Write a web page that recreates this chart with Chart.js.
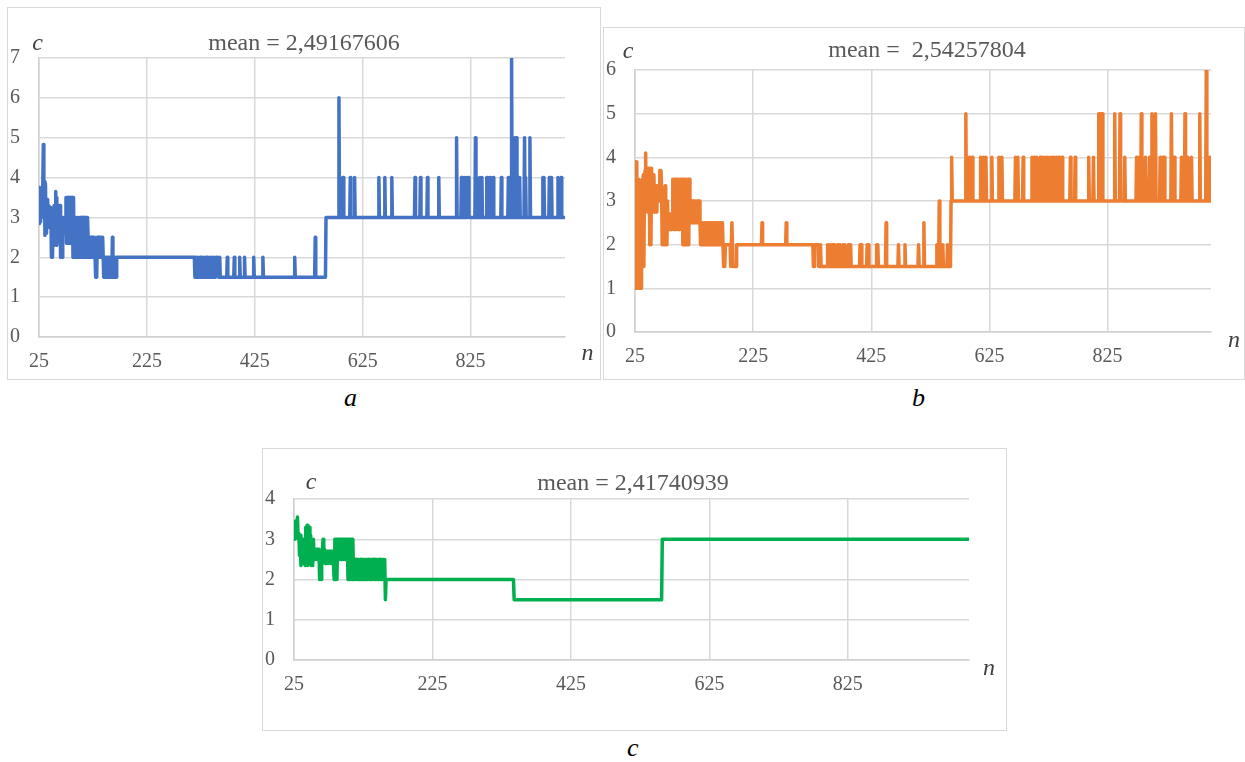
<!DOCTYPE html>
<html>
<head>
<meta charset="utf-8">
<script src="https://cdn.jsdelivr.net/npm/chart.js@4.4.1/dist/chart.umd.min.js"></script>
<style>
  body { margin: 0; background: #fff; width: 1245px; height: 762px; position: relative; overflow: hidden; }
  .box { position: absolute; border: 1px solid #d9d9d9; box-sizing: border-box; background: #fff; }
  .box canvas { display: block; }
  .tag { position: absolute; font: italic 26px/26px "Liberation Serif", "Times New Roman", serif; color: #000; }
</style>
</head>
<body>
<div class="box" style="left:7px;top:7px;width:594px;height:373px"><canvas id="chartA" width="592" height="371"></canvas></div>
<div class="box" style="left:603px;top:27px;width:642px;height:353px"><canvas id="chartB" width="640" height="351"></canvas></div>
<div class="box" style="left:262px;top:448px;width:745px;height:283px"><canvas id="chartC" width="743" height="281"></canvas></div>
<div class="tag" style="left:344px;top:385px">a</div>
<div class="tag" style="left:912px;top:385px">b</div>
<div class="tag" style="left:627px;top:735px">c</div>

<script>
// x ticks shared by all three panels
const xTicks = [25, 225, 425, 625, 825];
const xMin = 25;
const xMax = 1000;

// panel a  [n, c]
const seriesA = [
  [25,2.85],[26,3.75],[27,2.9],[28,3.6],[29,3.0],[30,3.75],[31,3.3],[32,3.8],[33,4.83],[34,3.4],[35,3.9],
  [36,2.55],[37,3.85],[38,2.6],[39,3.45],[40,2.8],[41,3.45],[42,2.8],[43,3.3],[44,2.75],[45,3.25],[46,2.75],
  [47,3.25],[48,2.0],[50,2.0],[51,2.8],[52,2.3],[53,3.3],[54,2.3],[55,3.3],[56,3.65],[57,2.3],[58,3.5],
  [59,2.4],[60,3.3],[61,2.75],[62,3.3],[63,2.75],[64,3.3],[65,2.0],[68,2.0],[69,2.5],[70,3.0],[71,2.6],
  [72,3.0],[73,2.7],[74,3.0],[75,3.5],[76,2.35],[77,3.5],[78,2.35],[79,3.5],[80,2.35],[81,3.5],[82,2.5],
  [83,3.5],[84,2.35],[85,3.5],[86,2.35],[87,3.5],[88,2.0],[89,3.5],[90,2.0],[91,3.0],[92,2.0],[93,3.0],
  [94,2.5],[95,3.0],[96,2.0],[97,3.0],[98,2.0],[99,3.0],[100,2.0],[101,3.0],[102,2.0],[103,3.0],[104,2.0],
  [105,3.0],[106,2.5],[107,3.0],[108,2.0],[109,3.0],[110,2.0],[111,3.0],[112,2.0],[113,3.0],[114,2.0],
  [115,3.0],[116,2.5],[117,2.0],[118,2.5],[119,2.0],[120,2.5],[121,2.0],[122,2.5],[123,2.0],[124,2.5],
  [125,2.0],[126,2.5],[127,2.0],[128,2.5],[129,2.0],[130,1.5],[132,1.5],[133,2.5],[134,2.0],[135,2.5],
  [136,2.0],[137,2.5],[138,2.0],[139,2.5],[140,2.0],[141,2.5],[142,2.0],[143,2.5],[144,2.0],[145,1.5],
  [147,2.0],[148,1.5],[150,2.0],[151,1.5],[153,2.0],[154,1.5],[156,2.0],[157,1.5],[160,1.5],[161,2.5],
  [162,2.0],[163,1.5],[166,1.5],[167,2.0],[168,1.5],[169,2.0],
  [313,2],[314,1.5],[316,2],[318,1.5],[320,2],[322,1.5],[324,2],[325,1.5],[327,2],[329,1.5],[331,2],
  [333,1.5],[335,2],[336,1.5],[338,2],[340,1.5],[342,2],[344,1.5],[346,2],[348,1.5],[350,2],[352,1.5],
  [354,2],[356,2],[358,1.5],[360,2],[361,1.5],
  [373,1.5],[374,2],[375,1.5],[386,1.5],[387,2],[388,1.5],[396,1.5],[397,2],[398,1.5],[405,1.5],[406,2],
  [407,1.5],[422,1.5],[423,2],[424,1.5],[439,1.5],[440,2],[441,1.5],[498,1.5],[499,2],[500,1.5],
  [536,1.5],[537,2.5],[538,1.5],[556,1.5],[557,3],
  [580,3],[581,6],[582,3],[587,3],[588,4],[589,4],[590,3],[601,3],[602,4],[603,3],[609,3],[610,4],[611,3],
  [654,3],[655,4],[656,3],[665,3],[666,4],[667,3],[678,3],[679,4],[680,3],[721,3],[722,4],[723,3],
  [731,3],[732,4],[733,3],[744,3],[745,4],[746,3],[765,3],[766,4],[767,3],[798,3],[799,5],[800,3],
  [807,3],[808,4],[809,3],[810,4],[811,3],[813,3],[814,4],[815,3],[817,3],[818,4],[819,3],[820,3],
  [821,4],[822,3],[833,3],[834,5],[835,3],[836,4],[837,3],[841,3],[842,4],[843,3],[845,3],[846,4],
  [847,3],[854,3],[855,4],[856,3],[857,4],[858,3],[860,3],[861,4],[862,3],[866,3],[867,4],[868,3],
  [881,3],[882,4],[883,3],[894,3],[895,4],[896,3],[900,3],[901,7],[902,3],[903,4],[904,3],[906,3],
  [907,5],[908,3],[909,5],[910,5],[911,3],[915,3],[916,4],[917,3],[924,3],[925,5],[926,3],[927,4],
  [928,3],[934,3],[935,5],[936,3],[958,3],[959,4],[960,3],[961,4],[962,3],[970,3],[971,4],[972,3],
  [974,3],[975,4],[976,3],[986,3],[987,4],[988,3],[992,3],[993,4],[994,3],[1000,3]
];

// panel b  [n, c]
const seriesB = [
  [25,2.5],[26,3.9],[27,1.0],[28,3.9],[29,1.0],[30,1.0],[31,3.5],[32,1.0],[33,2.5],[34,1.0],[35,3.0],
  [36,1.0],[37,3.5],[38,1.5],[39,3.6],[40,1.5],[41,3.5],[42,3.7],[43,4.1],[44,3.0],[45,3.75],[46,2.75],
  [47,3.75],[48,2.75],[49,3.75],[50,2.0],[51,3.5],[52,2.0],[53,3.75],[54,2.75],[55,3.6],[56,2.75],
  [57,3.6],[58,2.75],[59,3.35],[60,2.75],[61,3.35],[62,2.75],[63,3.35],[64,3.0],[65,3.35],[66,3.0],
  [67,3.7],[68,3.0],[69,3.7],[70,3.3],[71,2.0],[72,3.0],[73,2.0],[74,3.0],[75,2.0],[76,3.35],[77,2.0],
  [78,3.0],[79,2.0],[80,3.0],[81,2.35],[82,2.7],[83,2.35],[84,2.7],[85,2.35],[86,2.7],[87,2.35],[88,2.7],
  [89,3.5],[90,2.35],[91,3.5],[92,2.35],[93,3.5],[94,2.35],[95,3.5],[96,2.5],[97,3.5],[98,2.35],[99,3.5],
  [100,2.35],[101,3.5],[102,2.5],[103,3.5],[104,2.35],[105,3.5],[106,2.0],[107,3.5],[108,2.0],[109,3.5],
  [110,2.5],[111,3.5],[112,2.0],[113,3.5],[114,2.5],[115,3.5],[116,2.0],[117,3.5],[118,3.0],[119,2.5],
  [120,3.0],[121,2.5],[122,3.0],[123,2.5],[124,3.0],[125,2.5],[126,3.0],[127,2.5],[128,3.0],[129,2.5],
  [130,3.0],[131,2.5],[132,3.0],[133,2.5],[134,3.0],[135,2.5],
  [136,2.0],[137,2.5],[138,2.0],[140,2.5],[141,2.0],[143,2.5],[144,2.0],[146,2.5],[147,2.0],[149,2.5],
  [150,2.0],[152,2.5],[153,2.0],[155,2.5],[156,2.0],[158,2.5],[159,2.0],[161,2.5],[162,2.0],[164,2.5],
  [165,2.0],[167,2.5],[168,2.0],[170,2.5],[171,2.0],[173,2.5],[174,2.0],
  [175,1.5],[177,1.5],[178,2.0],[186,2.0],[187,1.5],[189,2.5],[190,2.0],[191,1.5],[196,1.5],[197,2.0],
  [239,2.0],[240,2.5],[241,2.0],[280,2.0],[281,2.5],[282,2.0],[326,2.0],[327,1.5],[328,1.5],[329,2.0],
  [335,2.0],[336,1.5],[338,1.5],[339,2],[340,1.5],[350,1.5],[351,2],[352,1.5],[353,2],[354,1.5],[355,2],
  [356,1.5],[358,1.5],[359,2],[360,1.5],[361,2],[362,1.5],[363,2],[364,1.5],[367,1.5],[368,2],[369,1.5],
  [370,2],[371,1.5],[372,2],[373,1.5],[376,1.5],[377,2],[378,1.5],[379,2],[380,1.5],[385,1.5],[386,2],
  [387,1.5],[388,2],[389,1.5],[390,2],[391,1.5],[405,1.5],[406,2],[407,1.5],[408,2],[409,1.5],[417,1.5],
  [418,2],[419,1.5],[420,2],[421,1.5],[433,1.5],[434,2],[435,1.5],[436,2],[437,1.5],[449,1.5],[450,2.5],
  [451,1.5],[470,1.5],[471,2],[472,1.5],[481,1.5],[482,2],[483,1.5],[504,1.5],[505,2],[506,1.5],
  [513,1.5],[514,2.5],[515,1.5],[535,1.5],[536,2],[537,1.5],[539,1.5],[540,3],[541,1.5],[545,1.5],
  [546,2],[547,1.5],[553,1.5],[554,2],[555,1.5],[559,1.5],[560,3],[561,4],[562,3],
  [584,3],[585,5],[586,3],[590,3],[591,4],[592,3],[595,3],[596,4],[597,3],[609,3],[610,4],[611,3],
  [614,3],[615,4],[616,3],[618,3],[619,4],[620,3],[628,3],[629,4],[630,3],[640,3],[641,4],[642,3],
  [645,3],[646,4],[647,3],[668,3],[669,4],[670,3],[672,3],[673,4],[674,3],[681,3],[682,4],[683,3],
  [696,3],[697,4],[698,3],[700,3],[701,4],[702,3],[704,3],[705,4],[706,3],[710,3],[711,4],[712,3],
  [714,3],[715,4],[716,3],[719,3],[720,4],[721,3],[723,3],[724,4],[725,3],[728,3],[729,4],[730,3],
  [732,3],[733,4],[734,3],[737,3],[738,4],[739,3],[742,3],[743,4],[744,3],[747,3],[748,4],[749,3],
  [761,3],[762,4],[763,3],[769,3],[770,4],[771,3],[792,3],[793,4],[794,3],[800,3],[801,4],[802,3],
  [809,3],[810,5],[811,5],[812,3],[814,3],[815,5],[816,5],[817,3],[836,3],[837,5],[838,3],[845,3],
  [846,5],[847,4],[848,3],[853,3],[854,4],[855,3],[873,3],[874,4],[875,3],[876,4],[877,3],[881,3],
  [882,5],[883,3],[888,3],[889,4],[890,3],[895,3],[896,4],[897,3],[899,3],[900,5],[901,3],[905,3],
  [906,5],[907,3],[913,3],[914,4],[915,3],[918,3],[919,4],[920,3],[921,4],[922,3],[932,3],[933,5],
  [934,3],[937,3],[938,4],[939,3],[949,3],[950,4],[951,3],[955,3],[956,5],[957,3],[960,3],[961,4],
  [962,3],[966,3],[967,4],[968,3],[980,3],[981,5],[982,3],[991,3],[992,6],[993,3],[997,3],[998,4],
  [999,4],[1000,3]
];

// panel c  [n, c]
const seriesC = [
  [25,3.3],[26,3.0],[27,3.45],[28,3.1],[29,3.35],[30,3.55],[31,3.0],[32,3.15],[33,2.6],[34,3.1],[35,2.35],
  [36,2.7],[37,2.4],[38,3.0],[39,2.5],[40,2.75],[41,2.35],[42,3.3],[43,2.6],[44,3.35],[45,2.35],[46,3.3],
  [47,3.3],[48,2.75],[49,3.1],[50,2.35],[51,2.6],[52,2.35],[53,3.0],[54,2.5],[55,2.75],[56,2.5],[57,2.75],
  [58,2.5],[59,2.75],[60,2.5],[61,2.75],[62,2.0],[63,2.6],[64,2.0],[65,2.5],[66,2.75],[67,3.0],[68,2.5],
  [69,2.75],[70,2.4],[71,2.7],[72,2.4],[73,2.7],[74,2.4],[75,2.7],[76,2.5],[77,2.7],[78,2.4],[79,2.7],
  [80,2.4],[81,2.7],[82,2.4],[83,2.0],[84,3.0],[85,2.0],[86,3.0],[87,2.0],[88,3.0],[89,2.5],[90,3.0],
  [91,2.5],[92,3.0],[93,2.5],[94,3.0],[95,2.5],[96,3.0],[97,2.5],[98,3.0],[99,2.5],[100,3.0],[101,2.5],
  [102,3.0],[103,2.0],[104,3.0],[105,2.0],[106,3.0],[107,2.0],[108,3.0],[109,2.0],[110,3.0],[111,2.0],
  [112,2.5],[113,2.0],[114,2.5],[115,2.0],[116,2.5],[117,2.0],[118,2.5],[119,2.0],[120,2.5],[121,2.0],
  [122,2.5],[123,2.0],[124,2.5],[125,2.0],[126,2.5],[127,2.0],[128,2.5],[129,2.0],[130,2.5],[131,2.0],
  [132,2.5],[133,2.0],[134,2.5],[135,2.0],[136,2.5],[137,2.0],[138,2.5],[139,2.0],[140,2.5],[141,2.0],
  [142,2.5],[143,2.0],[144,2.5],[145,2.0],[146,2.5],[147,2.0],[148,2.5],[149,2.0],[150,2.5],[151,2.0],
  [152,2.5],[153,2.0],[154,2.5],[155,2.0],[156,2.5],[157,1.5],[158,2.0],[342,2.0],[343,1.5],[556,1.5],
  [557,3.0],[1000,3.0]
];

const titleA = "mean = 2,49167606";
const titleB = "mean =  2,54257804";
const titleC = "mean = 2,41740939";

const serif = '"Liberation Serif", "Times New Roman", serif';

// title text plus the italic "c" and "n" axis letters
const panelText = {
  id: "panelText",
  afterDraw(chart, args, opts) {
    const ctx = chart.ctx;
    const area = chart.chartArea;
    ctx.save();
    ctx.textAlign = "center";
    ctx.textBaseline = "alphabetic";
    ctx.font = "24px " + serif;
    ctx.fillStyle = "#595959";
    ctx.fillText(opts.title, opts.titleAt[0], opts.titleAt[1]);
    ctx.font = "italic 24px " + serif;
    ctx.fillStyle = "#404040";
    ctx.fillText("c", area.left + opts.c[0], area.top + opts.c[1]);
    ctx.fillText("n", area.right + opts.n[0], area.bottom + opts.n[1]);
    ctx.restore();
  },
};

function makeChart(id, points, color, yMax, pad, xAxisH, text) {
  const ctx = document.getElementById(id).getContext("2d");
  return new Chart(ctx, {
    type: "line",
    data: {
      datasets: [
        {
          data: points.map((p) => ({ x: p[0], y: p[1] })),
          borderColor: color,
          borderWidth: 3.5,
          borderJoinStyle: "round",
          borderCapStyle: "round",
          pointRadius: 0,
          tension: 0,
          fill: false,
        },
      ],
    },
    options: {
      responsive: false,
      animation: false,
      layout: { padding: pad },
      plugins: {
        legend: { display: false },
        tooltip: { enabled: false },
        title: { display: false },
        panelText: text,
      },
      scales: {
        x: {
          type: "linear",
          min: xMin,
          max: xMax,
          afterBuildTicks: (axis) => {
            axis.ticks = xTicks.map((v) => ({ value: v }));
          },
          afterFit: (scale) => {
            scale.height = xAxisH;
          },
          grid: { color: "#d9d9d9", lineWidth: 1.5, drawTicks: false },
          border: { color: "#d0d0d0", width: 1.5 },
          ticks: {
            color: "#595959",
            font: { family: serif, size: 20 },
            padding: 13,
            maxRotation: 0,
          },
        },
        y: {
          min: 0,
          max: yMax,
          afterFit: (scale) => {
            scale.width = 31;
          },
          grid: { color: "#d9d9d9", lineWidth: 1.5, drawTicks: false },
          border: { color: "#d0d0d0", width: 1.5 },
          ticks: {
            stepSize: 1,
            color: "#595959",
            font: { family: serif, size: 20 },
            padding: 19,
          },
        },
      },
    },
    plugins: [panelText],
  });
}

makeChart("chartA", seriesA, "#4472C4", 7, { left: 0, right: 35, top: 50, bottom: 0 }, 42,
  { title: titleA, titleAt: [296, 42], c: [-1.5, -8], n: [22.5, 23] });
makeChart("chartB", seriesB, "#ED7D31", 6, { left: 0, right: 33, top: 42, bottom: 0 }, 47,
  { title: titleB, titleAt: [323, 29], c: [-7, -12], n: [23, 15] });
makeChart("chartC", seriesC, "#00B050", 4, { left: 0, right: 37, top: 50, bottom: 0 }, 70,
  { title: titleC, titleAt: [370, 41], c: [17, -10], n: [20, 15] });
</script>
</body>
</html>
